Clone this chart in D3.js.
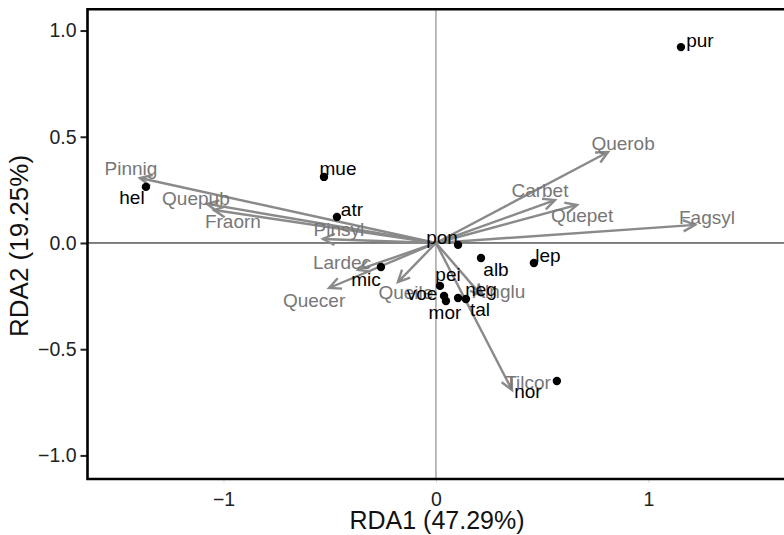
<!DOCTYPE html>
<meta charset="utf-8">
<style>
  body { margin: 0; background: #fff; }
  text { font-family: "Liberation Sans", Arial, sans-serif; }
</style>
<svg width="784" height="535"></svg>
<script src="https://cdn.jsdelivr.net/npm/d3@7"></script>
<script>

// site scores (black points)
var siteNames = ['pur', 'mue', 'hel', 'atr', 'pon', 'mic', 'alb', 'lep', 'pei', 'voe', 'mor', 'neg', 'tal', 'nor']
var siteRDA1 = [1.153, -0.527, -1.365, -0.466, 0.104, -0.259, 0.212, 0.461, 0.019, 0.038, 0.047, 0.104, 0.141, 0.569]
var siteRDA2 = [0.922, 0.311, 0.264, 0.122, -0.009, -0.113, -0.071, -0.094, -0.202, -0.249, -0.273, -0.259, -0.264, -0.650]

// species scores (grey arrows)
var speciesNames = ['Pinnig', 'Quepub', 'Fraorn', 'Pinsyl', 'Lardec', 'Quecer', 'Queile', 'Alnglu', 'Tilcor', 'Querob', 'Carbet', 'Quepet', 'Fagsyl']
var speciesRDA1 = [-1.393, -1.078, -1.045, -0.532, -0.367, -0.503, -0.179, 0.216, 0.358, 0.810, 0.560, 0.664, 1.219]
var speciesRDA2 = [0.306, 0.184, 0.155, 0.019, -0.127, -0.212, -0.184, -0.249, -0.692, 0.428, 0.202, 0.179, 0.085]

var xTicks = [-1, 0, 1]
var yTicks = [-1, -0.5, 0, 0.5, 1]
var xTitle = 'RDA1 (47.29%)'
var yTitle = 'RDA2 (19.25%)'

// label nudges in pixels (repelled labels)
var siteNudge = {
  pur: [19, -7], mue: [14, -9], hel: [-14, 10], atr: [15, -8], pon: [-16, -8],
  mic: [-15, 12], alb: [15, 11], lep: [14, -8], pei: [8, -12], voe: [-22, -3],
  mor: [-1, 11], neg: [23, -9], tal: [14, 10], nor: [-29, 10]
}
var speciesNudge = {
  Pinnig: [-9, -10], Quepub: [-11, -6], Fraorn: [19, 11], Pinsyl: [16, -10],
  Lardec: [-16, -8], Quecer: [-15, 12], Queile: [8, 10], Alnglu: [17, -5],
  Tilcor: [16, -8], Querob: [15, -9], Carbet: [-15, -10], Quepet: [5, 10], Fagsyl: [12, -8]
}

var sites = siteNames.map(function (n, i) { return { name: n, x: siteRDA1[i], y: siteRDA2[i] } })
var species = speciesNames.map(function (n, i) { return { name: n, x: speciesRDA1[i], y: speciesRDA2[i] } })

var plotLeft = 87.5, plotRight = 784, plotTop = 9.3, plotBottom = 479

var x = d3.scaleLinear().domain([-1.640, 1.638]).range([plotLeft, plotRight])
var y = d3.scaleLinear().domain([-1.111, 1.100]).range([plotBottom, plotTop])

var svg = d3.select('svg')

// zero lines
svg.append('line')
  .attr('x1', plotLeft).attr('x2', plotRight)
  .attr('y1', y(0)).attr('y2', y(0))
  .attr('stroke', '#000').attr('stroke-width', 1)
svg.append('line')
  .attr('x1', x(0)).attr('x2', x(0))
  .attr('y1', plotTop).attr('y2', plotBottom)
  .attr('stroke', '#777').attr('stroke-width', 1)

// arrows
var arrowColor = '#8a8a8a'
var headLen = 13, headAng = Math.PI / 7
var arrows = svg.append('g').attr('class', 'arrows')
species.forEach(function (s) {
  var x0 = x(0), y0 = y(0), x1 = x(s.x), y1 = y(s.y)
  var a = Math.atan2(y1 - y0, x1 - x0)
  arrows.append('line')
    .attr('x1', x0).attr('y1', y0).attr('x2', x1).attr('y2', y1)
    .attr('stroke', arrowColor).attr('stroke-width', 2.4)
  arrows.append('path')
    .attr('d', 'M' + (x1 - headLen * Math.cos(a - headAng)) + ',' + (y1 - headLen * Math.sin(a - headAng)) +
      'L' + x1 + ',' + y1 +
      'L' + (x1 - headLen * Math.cos(a + headAng)) + ',' + (y1 - headLen * Math.sin(a + headAng)))
    .attr('fill', 'none').attr('stroke', arrowColor).attr('stroke-width', 2.4)
})

svg.append('g').attr('class', 'species-labels')
  .selectAll('text')
  .data(species)
  .enter().append('text')
    .attr('x', function (d) { return x(d.x) + speciesNudge[d.name][0] })
    .attr('y', function (d) { return y(d.y) + speciesNudge[d.name][1] })
    .attr('dy', '0.35em')
    .attr('text-anchor', 'middle')
    .attr('font-size', 19)
    .attr('fill', '#777')
    .text(function (d) { return d.name })

svg.append('g').attr('class', 'sites')
  .selectAll('circle')
  .data(sites)
  .enter().append('circle')
    .attr('cx', function (d) { return x(d.x) })
    .attr('cy', function (d) { return y(d.y) })
    .attr('r', 4.2)
    .attr('fill', '#000')

svg.append('g').attr('class', 'site-labels')
  .selectAll('text')
  .data(sites)
  .enter().append('text')
    .attr('x', function (d) { return x(d.x) + siteNudge[d.name][0] })
    .attr('y', function (d) { return y(d.y) + siteNudge[d.name][1] })
    .attr('dy', '0.35em')
    .attr('text-anchor', 'middle')
    .attr('font-size', 19)
    .attr('fill', '#000')
    .text(function (d) { return d.name })

// axes
var yAxis = svg.append('g')
  .attr('transform', 'translate(' + plotLeft + ',0)')
  .call(d3.axisLeft(y).tickValues(yTicks).tickFormat(d3.format('.1f')).tickSize(7).tickPadding(4))
yAxis.select('.domain').remove()
yAxis.selectAll('.tick line').attr('stroke', '#222').attr('stroke-width', 2)
yAxis.selectAll('.tick text').attr('font-size', 19.5).attr('fill', '#222')
  .style('font-family', '"Liberation Sans", Arial, sans-serif')

var xAxis = svg.append('g')
  .attr('transform', 'translate(0,' + plotBottom + ')')
  .call(d3.axisBottom(x).tickValues(xTicks).tickFormat(d3.format('d')).tickSize(4).tickPadding(9))
xAxis.select('.domain').remove()
xAxis.selectAll('.tick line').attr('stroke', '#ddd').attr('stroke-width', 1)
xAxis.selectAll('.tick text').attr('font-size', 19.5).attr('fill', '#222')
  .style('font-family', '"Liberation Sans", Arial, sans-serif')

// frame: left, top, bottom
svg.append('path')
  .attr('d', 'M' + plotRight + ',' + plotTop + 'L' + plotLeft + ',' + plotTop + 'L' + plotLeft + ',' + plotBottom + 'L' + plotRight + ',' + plotBottom)
  .attr('fill', 'none').attr('stroke', '#000').attr('stroke-width', 2.6)

svg.append('text')
  .attr('x', 437).attr('y', 529)
  .attr('text-anchor', 'middle').attr('font-size', 25).attr('fill', '#111')
  .text(xTitle)

svg.append('text')
  .attr('transform', 'translate(28,' + (y(0) + 3) + ') rotate(-90)')
  .attr('text-anchor', 'middle').attr('font-size', 26).attr('fill', '#111')
  .text(yTitle)

</script>
